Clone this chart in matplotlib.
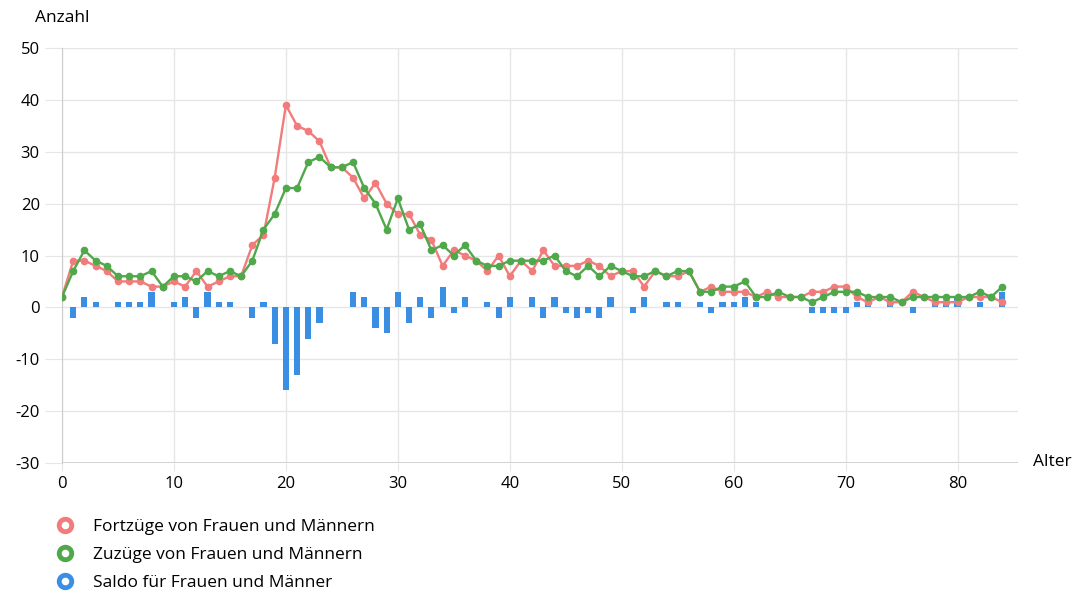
import numpy as np
import matplotlib.pyplot as plt
from matplotlib.lines import Line2D

plt.rcParams['font.family'] = ['Open Sans', 'DejaVu Sans']
plt.rcParams['axes.unicode_minus'] = False

# Alter 0..84
alter = np.arange(0, 85)

# Fortzuege (rot)
fortzuege = [2, 9, 9, 8, 7, 5, 5, 5, 4, 4,
             5, 4, 7, 4, 5, 6, 6, 12, 14, 25,
             39, 35, 34, 32, 27, 27, 25, 21, 24, 20,
             18, 18, 14, 13, 8, 11, 10, 9, 7, 10,
             6, 9, 7, 11, 8, 8, 8, 9, 8, 6,
             7, 7, 4, 7, 6, 6, 7, 3, 4, 3,
             3, 3, 2, 3, 2, 2, 2, 3, 3, 4,
             4, 2, 1, 2, 1, 1, 3, 2, 1, 1,
             1, 2, 2, 2, 1]

# Zuzuege (gruen)
zuzuege = [2, 7, 11, 9, 8, 6, 6, 6, 7, 4,
           6, 6, 5, 7, 6, 7, 6, 9, 15, 18,
           23, 23, 28, 29, 27, 27, 28, 23, 20, 15,
           21, 15, 16, 11, 12, 10, 12, 9, 8, 8,
           9, 9, 9, 9, 10, 7, 6, 8, 6, 8,
           7, 6, 6, 7, 6, 7, 7, 3, 3, 4,
           4, 5, 2, 2, 3, 2, 2, 1, 2, 3,
           3, 3, 2, 2, 2, 1, 2, 2, 2, 2,
           2, 2, 3, 2, 4]

# Saldo (blaue Balken)
saldo = [0, -2, 2, 1, 0, 1, 1, 1, 3, 0,
         1, 2, -2, 3, 1, 1, 0, -2, 1, -7,
         -16, -13, -6, -3, 0, 0, 3, 2, -4, -5,
         3, -3, 2, -2, 4, -1, 2, 0, 1, -2,
         2, 0, 2, -2, 2, -1, -2, -1, -2, 2,
         0, -1, 2, 0, 1, 1, 0, 1, -1, 1,
         1, 2, 1, 0, 0, 0, 0, -1, -1, -1,
         -1, 1, 1, 0, 1, 0, -1, 0, 1, 1,
         2, 0, 1, 0, 3]

labels = ['Fortzüge von Frauen und Männern',
          'Zuzüge von Frauen und Männern',
          'Saldo für Frauen und Männer']

c_rot = '#f27b7b'
c_gruen = '#4fa84a'
c_blau = '#3b8fe3'

fig = plt.figure(figsize=(10.76, 5.93), dpi=100)
ax = fig.add_axes([62 / 1076, 1 - 463 / 593, (1018 - 62) / 1076, 415 / 593])

ax.bar(alter, saldo, width=0.55, color=c_blau, zorder=2)
ax.plot(alter, fortzuege, color=c_rot, lw=1.7, marker='o', ms=4.5, zorder=3)
ax.plot(alter, zuzuege, color=c_gruen, lw=1.7, marker='o', ms=4.5, zorder=4)

ax.set_xlim(0, 85.4)
ax.set_ylim(-30, 50)
ax.set_xticks(range(0, 81, 10))
ax.set_yticks(range(-30, 51, 10))
ax.grid(True, color='#e6e6e6', lw=1, zorder=0)
ax.set_axisbelow(True)
for s in ['top', 'right', 'bottom']:
    ax.spines[s].set_visible(False)
ax.spines['left'].set_color('#cccccc')
ax.axhline(-30, color='#cccccc', lw=1.2, zorder=1)
ax.tick_params(axis='y', length=12, color='#e6e6e6', labelsize=12, pad=4)
ax.tick_params(axis='x', length=6, color='#e6e6e6', labelsize=12, pad=3)

fig.text(35 / 1076, 1 - 18 / 593, 'Anzahl', fontsize=12.5, va='center', ha='left')
fig.text(1033 / 1076, 1 - 462 / 593, 'Alter', fontsize=12.5, va='center', ha='left')

handles = [Line2D([], [], ls='none', marker='o', ms=9, mfc='white', mec=c, mew=3.5)
           for c in [c_rot, c_gruen, c_blau]]
fig.legend(handles, labels, loc='upper left', bbox_to_anchor=(45 / 1076, 1 - 512 / 593),
           frameon=False, fontsize=12.5, labelspacing=0.68, handletextpad=0.85,
           handlelength=1.5, borderaxespad=0)

fig.savefig('out.png', dpi=100)
